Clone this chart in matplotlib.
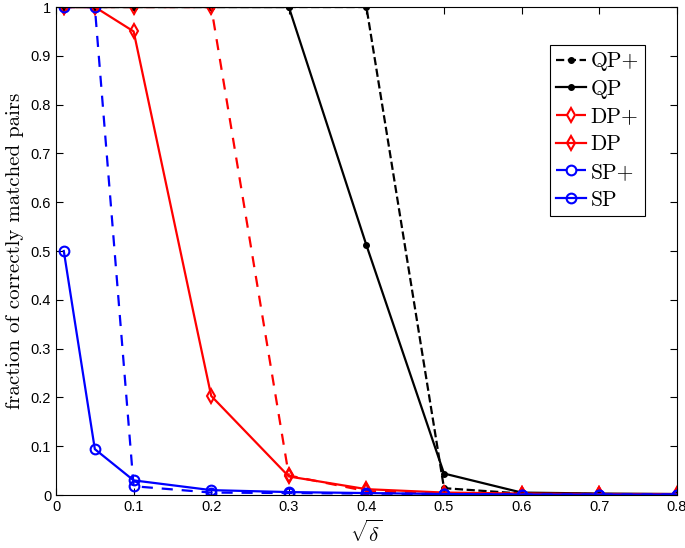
import matplotlib
matplotlib.use("Agg")
import matplotlib.pyplot as plt

x = [0.01, 0.05, 0.1, 0.2, 0.3, 0.4, 0.5, 0.6, 0.7, 0.8]
qp_plus = [1, 1, 1, 1, 1, 1, 0.014, 0.003, 0.002, 0.001]
qp = [1, 1, 1, 1, 1, 0.512, 0.044, 0.005, 0.003, 0.002]
dp_plus = [1, 1, 1, 1, 0.04, 0.008, 0.003, 0.002, 0.002, 0.001]
dp = [1, 1, 0.95, 0.203, 0.038, 0.012, 0.005, 0.003, 0.002, 0.002]
sp_plus = [1, 1, 0.018, 0.005, 0.004, 0.003, 0.002, 0.001, 0.001, 0.001]
sp = [0.5, 0.094, 0.03, 0.01, 0.006, 0.004, 0.002, 0.001, 0.001, 0.001]
labels = ["QP+", "QP", "DP+", "DP", "SP+", "SP"]

plt.rcParams['mathtext.fontset'] = 'cm'
fig = plt.figure(figsize=(6.85, 5.48), dpi=100)
ax = fig.add_axes([0.0818, 0.0967, 0.9062, 0.8905])

lw = 1.6
ax.plot(x, qp_plus, '--', color='black', lw=lw, marker='o', ms=4, mfc='black', label=labels[0])
ax.plot(x, qp, '-', color='black', lw=lw, marker='o', ms=4, mfc='black', label=labels[1])
ax.plot(x, dp_plus, '--', color='red', lw=lw, marker='d', ms=7, mfc='none', mew=1.5, label=labels[2], dashes=(5, 4))
ax.plot(x, dp, '-', color='red', lw=lw, marker='d', ms=7, mfc='none', mew=1.5, label=labels[3])
ax.plot(x, sp_plus, '--', color='blue', lw=lw, marker='o', ms=7, mfc='none', mew=1.5, label=labels[4], dashes=(5, 4))
ax.plot(x, sp, '-', color='blue', lw=lw, marker='o', ms=7, mfc='none', mew=1.5, label=labels[5])

ax.set_xlim(0, 0.8)
ax.set_ylim(0, 1)
ax.set_xticks([0, 0.1, 0.2, 0.3, 0.4, 0.5, 0.6, 0.7, 0.8])
ax.set_xticklabels(['0', '0.1', '0.2', '0.3', '0.4', '0.5', '0.6', '0.7', '0.8'])
ax.set_yticks([0, 0.1, 0.2, 0.3, 0.4, 0.5, 0.6, 0.7, 0.8, 0.9, 1])
ax.set_yticklabels(['0', '0.1', '0.2', '0.3', '0.4', '0.5', '0.6', '0.7', '0.8', '0.9', '1'])
ax.tick_params(direction='in', top=True, right=True, length=5, width=0.8,
               labelsize=10.5)
for lab in ax.get_xticklabels() + ax.get_yticklabels():
    lab.set_family('Liberation Sans')
for s in ax.spines.values():
    s.set_linewidth(0.8)

ax.set_xlabel(r'$\sqrt{\delta}$', fontsize=15, labelpad=4)
ax.set_ylabel('fraction of correctly matched pairs', fontsize=15, family='cmr10', labelpad=5)

leg = ax.legend(loc='upper right', bbox_to_anchor=(0.949, 0.922), fancybox=False,
                edgecolor='black', framealpha=1, prop={'family': 'cmr10', 'size': 15.5},
                handlelength=1.4, handletextpad=0.2, borderpad=0.3, labelspacing=0.38,
                borderaxespad=0)
leg.get_frame().set_linewidth(0.8)

fig.savefig('out.png', dpi=100)
